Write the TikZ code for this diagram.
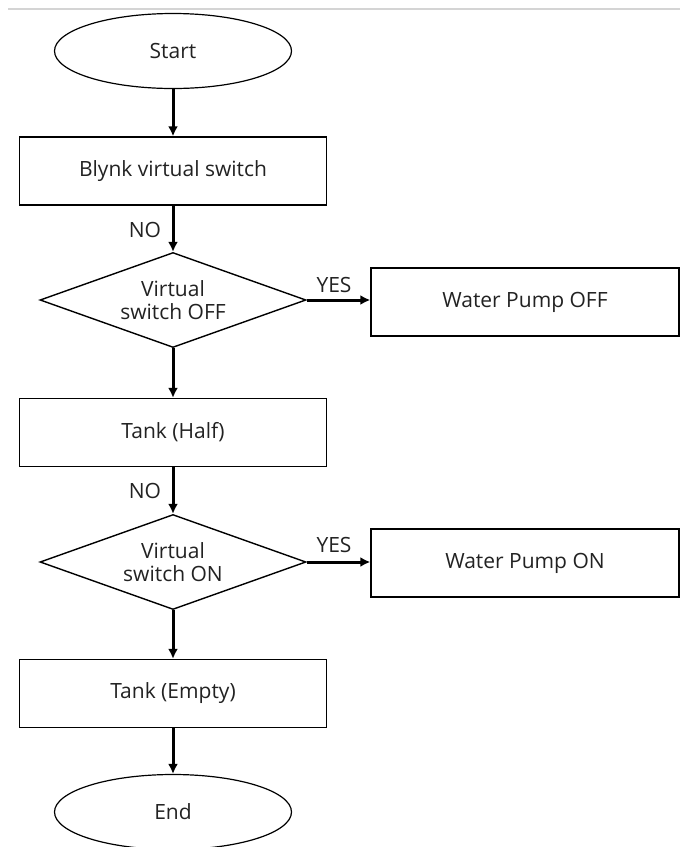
\documentclass[tikz,border=0pt]{standalone}
\usepackage{fontspec}
\setmainfont{Open Sans}
\usepackage{xcolor}
\usetikzlibrary{arrows.meta,shapes.geometric}
\definecolor{rulegray}{HTML}{D4D4D4}
\definecolor{inkgray}{HTML}{222222}
\tikzset{
  terminal/.style={ellipse,draw,line width=0.6pt,minimum width=118.5pt,minimum height=37.5pt,inner sep=0pt,text=inkgray},
  process/.style={rectangle,draw,line width=0.7pt,minimum width=153.5pt,minimum height=34pt,inner sep=0pt,text=inkgray},
  decision/.style={diamond,draw,line width=0.7pt,aspect=2.8,minimum width=133pt,minimum height=47.5pt,inner sep=0pt,align=center,text=inkgray},
  flowarrow/.style={-{Latex[length=5pt,width=5pt]},line width=1.5pt},
  flowlabel/.style={inner sep=0pt,text=inkgray},
  topline/.style={rulegray,line width=0.6pt}
}

\begin{document}
\begin{tikzpicture}[x=0.5pt,y=-0.5pt,font=\fontsize{10.5}{11.5}\selectfont]
  \useasboundingbox (0,0) rectangle (680,847);
  \draw[topline] (8,9) -- (680,9);
  \node[terminal] (start) at (173,51) {Start};
  \node[process] (blynk) at (173,171) {Blynk virtual switch};
  \node[decision] (chkoff) at (173,300) {Virtual\\switch OFF};
  \node[process,minimum width=154pt] (pumpoff) at (525,302) {Water Pump OFF};
  \node[process] (half) at (173,432.5) {Tank (Half)};
  \node[decision] (chkon) at (173,562) {Virtual\\switch ON};
  \node[process,minimum width=154pt] (pumpon) at (525,563) {Water Pump ON};
  \node[process] (empty) at (173,693.5) {Tank (Empty)};
  \node[terminal] (finish) at (173,812) {End};
  \node[flowlabel] (no1) at (145,230) {NO};
  \node[flowlabel] (yes1) at (334,285) {YES};
  \node[flowlabel] (no2) at (145,491) {NO};
  \node[flowlabel] (yes2) at (334,545) {YES};
  \draw[flowarrow] (start) -- (blynk);
  \draw[flowarrow] (blynk) -- (chkoff);
  \draw[flowarrow] (chkoff.east) -- (chkoff.east -| pumpoff.west);
  \draw[flowarrow] (chkoff) -- (half);
  \draw[flowarrow] (half) -- (chkon);
  \draw[flowarrow] (chkon.east) -- (chkon.east -| pumpon.west);
  \draw[flowarrow] (chkon) -- (empty);
  \draw[flowarrow] (empty) -- (finish);
\end{tikzpicture}
\end{document}
